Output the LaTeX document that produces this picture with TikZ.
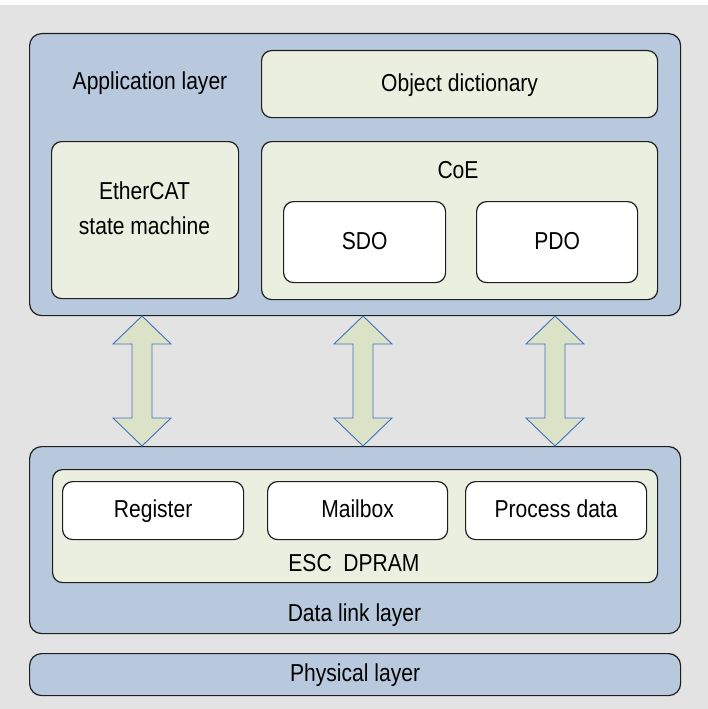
\documentclass[tikz,border=0pt]{standalone}
\usepackage{fontspec}
\setmainfont{Liberation Sans}[FakeStretch=0.86]
\definecolor{fondo}{HTML}{E3E3E3}
\definecolor{azulcapa}{HTML}{B8C9DE}
\definecolor{crema}{HTML}{EBEFDF}
\definecolor{borde}{HTML}{1E1E1E}
\definecolor{azulflecha}{HTML}{3F6FBF}
\definecolor{verdeflecha}{HTML}{DCE2C8}

\begin{document}
\begin{tikzpicture}[x=1pt, y=-1pt,
  caja/.style={draw=borde, line width=1.2pt, anchor=north west, inner sep=0pt,
    font=\fontsize{24.5}{29}\selectfont, align=center, text height=17pt, text depth=3pt},
  capa/.style={caja, fill=azulcapa, rounded corners=12pt},
  modulo/.style={caja, fill=crema, rounded corners=10pt},
  celda/.style={caja, fill=white, rounded corners=10pt},
  etiqueta/.style={font=\fontsize{24.5}{35}\selectfont, align=center, inner sep=0pt},
  flecha/.style={draw=azulflecha, fill=verdeflecha, line width=0.9pt, line join=miter}
]
% fondo
\fill[white] (0,0) rectangle (708,709);
\fill[fondo] (0,5) rectangle (708,709);
\useasboundingbox (0,0) rectangle (708,709);

% application layer
\node[capa, minimum width=651pt, minimum height=282pt] (app) at (29,33) {};
\node[etiqueta] (applbl) at (150,83) {Application layer};
\node[modulo, minimum width=396pt, minimum height=67pt] (objdic) at (261,50) {Object dictionary};
\node[modulo, minimum width=187pt, minimum height=157pt] (esm) at (51,141) {};
\node[etiqueta] (esmlbl) at (144.5,208) {EtherCAT\\state machine};
\node[modulo, minimum width=396pt, minimum height=158pt] (coe) at (261,141) {};
\node[etiqueta] (coelbl) at (458,170) {CoE};
\node[celda, minimum width=162pt, minimum height=81pt] (sdo) at (283,201) {SDO};
\node[celda, minimum width=161pt, minimum height=81pt] (pdo) at (476,201) {PDO};

% data link layer
\node[capa, minimum width=651pt, minimum height=187pt] (dll) at (29,446) {};
\node[etiqueta] (dlllbl) at (354.5,615) {Data link layer};
\node[modulo, minimum width=605pt, minimum height=113pt] (esc) at (52,469) {};
\node[etiqueta] (esclbl) at (354,563) {ESC\ \ DPRAM};
\node[celda, minimum width=181pt, minimum height=58pt] (reg) at (62,481) {Register};
\node[celda, minimum width=180pt, minimum height=58pt] (mbox) at (267,481) {Mailbox};
\node[celda, minimum width=181pt, minimum height=58pt] (pdat) at (465,481) {Process data};

% physical layer
\node[capa, minimum width=651pt, minimum height=42pt] (phy) at (29,653) {Physical layer};

% flechas dobles
\foreach \x in {142,363,555}
  \draw[flecha] (\x,316) -- (\x+29,344) -- (\x+10,344) -- (\x+10,418) -- (\x+29,418)
    -- (\x,446) -- (\x-29,418) -- (\x-10,418) -- (\x-10,344) -- (\x-29,344) -- cycle;
\end{tikzpicture}
\end{document}
